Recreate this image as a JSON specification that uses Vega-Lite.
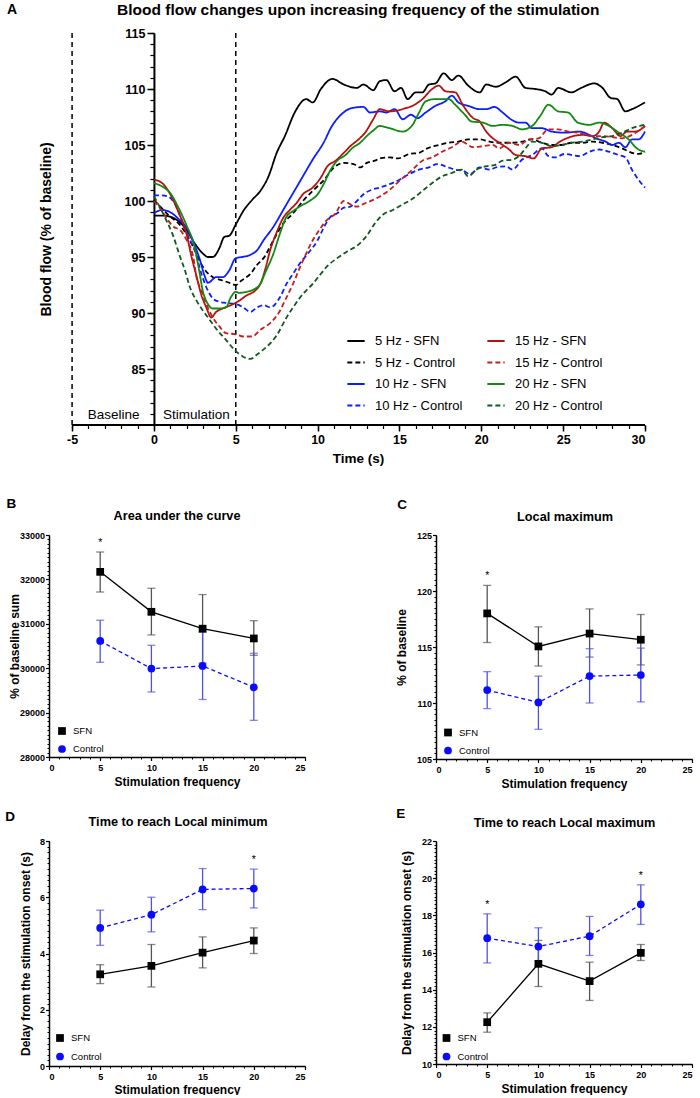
{
  "$schema": "https://vega.github.io/schema/vega-lite/v6.json",
  "padding": {"left": 5, "top": 2, "right": 2, "bottom": 0},
  "background": "white",
  "config": {
    "view": {"stroke": null},
    "font": "Liberation Sans",
    "axis": {"labelFont": "Liberation Sans", "titleFont": "Liberation Sans", "labelFontWeight": "bold", "titleFontWeight": "bold", "labelColor": "black", "titleColor": "black", "tickColor": "black", "domainColor": "black", "domainWidth": 1.5, "tickWidth": 1.2, "grid": false},
    "legend": {"labelFont": "Liberation Sans", "labelColor": "black"},
    "text": {"font": "Liberation Sans", "color": "black"}
  },
  "datasets": {
    "vlines": [{"t": -5}, {"t": 5}],
    "curves": [
      {"s":"5 Hz - SFN","t":0,"v":98.7},{"s":"5 Hz - SFN","t":0.5,"v":98.7},{"s":"5 Hz - SFN","t":1,"v":98.6},{"s":"5 Hz - SFN","t":1.5,"v":98.2},{"s":"5 Hz - SFN","t":2,"v":97.4},{"s":"5 Hz - SFN","t":2.5,"v":96.2},{"s":"5 Hz - SFN","t":3,"v":95.3},{"s":"5 Hz - SFN","t":3.3,"v":95.0},{"s":"5 Hz - SFN","t":3.6,"v":95.0},{"s":"5 Hz - SFN","t":4,"v":95.8},{"s":"5 Hz - SFN","t":4.3,"v":96.8},{"s":"5 Hz - SFN","t":4.6,"v":96.9},{"s":"5 Hz - SFN","t":5,"v":97.9},{"s":"5 Hz - SFN","t":5.5,"v":99.2},{"s":"5 Hz - SFN","t":6,"v":100.1},{"s":"5 Hz - SFN","t":6.5,"v":100.9},{"s":"5 Hz - SFN","t":7,"v":102.2},{"s":"5 Hz - SFN","t":7.5,"v":104.3},{"s":"5 Hz - SFN","t":8,"v":105.8},{"s":"5 Hz - SFN","t":8.6,"v":107.9},{"s":"5 Hz - SFN","t":9.3,"v":109.1},{"s":"5 Hz - SFN","t":9.7,"v":108.8},{"s":"5 Hz - SFN","t":10.2,"v":110.0},{"s":"5 Hz - SFN","t":10.9,"v":110.9},{"s":"5 Hz - SFN","t":11.6,"v":110.4},{"s":"5 Hz - SFN","t":12.4,"v":110.1},{"s":"5 Hz - SFN","t":12.8,"v":110.4},{"s":"5 Hz - SFN","t":13.4,"v":109.9},{"s":"5 Hz - SFN","t":13.8,"v":110.7},{"s":"5 Hz - SFN","t":14.2,"v":110.8},{"s":"5 Hz - SFN","t":14.7,"v":109.8},{"s":"5 Hz - SFN","t":15.1,"v":110.1},{"s":"5 Hz - SFN","t":15.5,"v":109.1},{"s":"5 Hz - SFN","t":16.0,"v":109.7},{"s":"5 Hz - SFN","t":16.4,"v":109.7},{"s":"5 Hz - SFN","t":16.8,"v":110.4},{"s":"5 Hz - SFN","t":17.2,"v":110.5},{"s":"5 Hz - SFN","t":17.7,"v":111.4},{"s":"5 Hz - SFN","t":18.2,"v":110.8},{"s":"5 Hz - SFN","t":18.6,"v":111.2},{"s":"5 Hz - SFN","t":19.2,"v":110.3},{"s":"5 Hz - SFN","t":19.9,"v":109.7},{"s":"5 Hz - SFN","t":20.3,"v":110.4},{"s":"5 Hz - SFN","t":20.9,"v":110.2},{"s":"5 Hz - SFN","t":21.5,"v":110.6},{"s":"5 Hz - SFN","t":22.1,"v":111.1},{"s":"5 Hz - SFN","t":22.7,"v":110.1},{"s":"5 Hz - SFN","t":23.3,"v":110.0},{"s":"5 Hz - SFN","t":23.9,"v":109.8},{"s":"5 Hz - SFN","t":24.3,"v":109.5},{"s":"5 Hz - SFN","t":24.7,"v":110.1},{"s":"5 Hz - SFN","t":25.5,"v":109.7},{"s":"5 Hz - SFN","t":26.1,"v":110.1},{"s":"5 Hz - SFN","t":26.9,"v":110.5},{"s":"5 Hz - SFN","t":27.4,"v":110.1},{"s":"5 Hz - SFN","t":27.9,"v":109.2},{"s":"5 Hz - SFN","t":28.3,"v":109.1},{"s":"5 Hz - SFN","t":28.8,"v":108.0},{"s":"5 Hz - SFN","t":29.2,"v":108.2},{"s":"5 Hz - SFN","t":30,"v":108.8},
      {"s":"5 Hz - Control","t":0,"v":100.1},{"s":"5 Hz - Control","t":0.45,"v":99.4},{"s":"5 Hz - Control","t":1,"v":98.6},{"s":"5 Hz - Control","t":1.5,"v":98.0},{"s":"5 Hz - Control","t":2,"v":97.0},{"s":"5 Hz - Control","t":2.5,"v":95.6},{"s":"5 Hz - Control","t":3,"v":94.1},{"s":"5 Hz - Control","t":3.4,"v":93.4},{"s":"5 Hz - Control","t":3.6,"v":93.2},{"s":"5 Hz - Control","t":4.2,"v":92.9},{"s":"5 Hz - Control","t":4.6,"v":92.7},{"s":"5 Hz - Control","t":5,"v":92.5},{"s":"5 Hz - Control","t":5.35,"v":92.9},{"s":"5 Hz - Control","t":5.9,"v":93.5},{"s":"5 Hz - Control","t":6.3,"v":94.3},{"s":"5 Hz - Control","t":6.7,"v":94.9},{"s":"5 Hz - Control","t":7.3,"v":96.5},{"s":"5 Hz - Control","t":7.9,"v":98.0},{"s":"5 Hz - Control","t":8.5,"v":98.9},{"s":"5 Hz - Control","t":9.1,"v":100.0},{"s":"5 Hz - Control","t":9.7,"v":100.9},{"s":"5 Hz - Control","t":10.4,"v":101.9},{"s":"5 Hz - Control","t":11.0,"v":103.0},{"s":"5 Hz - Control","t":11.6,"v":103.4},{"s":"5 Hz - Control","t":12.2,"v":103.3},{"s":"5 Hz - Control","t":12.6,"v":103.0},{"s":"5 Hz - Control","t":13.0,"v":103.4},{"s":"5 Hz - Control","t":13.5,"v":103.6},{"s":"5 Hz - Control","t":13.8,"v":103.8},{"s":"5 Hz - Control","t":14.4,"v":103.9},{"s":"5 Hz - Control","t":14.9,"v":103.8},{"s":"5 Hz - Control","t":15.6,"v":104.2},{"s":"5 Hz - Control","t":16.2,"v":104.3},{"s":"5 Hz - Control","t":16.7,"v":104.7},{"s":"5 Hz - Control","t":17.4,"v":105.0},{"s":"5 Hz - Control","t":18.0,"v":105.2},{"s":"5 Hz - Control","t":18.6,"v":105.3},{"s":"5 Hz - Control","t":19.2,"v":105.5},{"s":"5 Hz - Control","t":19.9,"v":105.5},{"s":"5 Hz - Control","t":20.5,"v":105.3},{"s":"5 Hz - Control","t":21.1,"v":105.2},{"s":"5 Hz - Control","t":21.9,"v":105.2},{"s":"5 Hz - Control","t":22.5,"v":105.3},{"s":"5 Hz - Control","t":23.1,"v":105.5},{"s":"5 Hz - Control","t":23.7,"v":105.2},{"s":"5 Hz - Control","t":24.3,"v":105.0},{"s":"5 Hz - Control","t":24.9,"v":105.0},{"s":"5 Hz - Control","t":25.5,"v":105.2},{"s":"5 Hz - Control","t":26.2,"v":105.2},{"s":"5 Hz - Control","t":26.8,"v":105.3},{"s":"5 Hz - Control","t":27.4,"v":105.2},{"s":"5 Hz - Control","t":28.0,"v":105.0},{"s":"5 Hz - Control","t":28.6,"v":104.7},{"s":"5 Hz - Control","t":29.2,"v":104.3},{"s":"5 Hz - Control","t":29.6,"v":104.2},{"s":"5 Hz - Control","t":30,"v":104.4},
      {"s":"10 Hz - SFN","t":0,"v":98.9},{"s":"10 Hz - SFN","t":0.5,"v":99.2},{"s":"10 Hz - SFN","t":1,"v":99.0},{"s":"10 Hz - SFN","t":1.5,"v":98.4},{"s":"10 Hz - SFN","t":2,"v":97.6},{"s":"10 Hz - SFN","t":2.5,"v":96.0},{"s":"10 Hz - SFN","t":2.8,"v":94.8},{"s":"10 Hz - SFN","t":3.1,"v":93.3},{"s":"10 Hz - SFN","t":3.3,"v":92.7},{"s":"10 Hz - SFN","t":3.8,"v":93.2},{"s":"10 Hz - SFN","t":4.2,"v":93.2},{"s":"10 Hz - SFN","t":4.6,"v":93.8},{"s":"10 Hz - SFN","t":5,"v":94.9},{"s":"10 Hz - SFN","t":5.4,"v":95.0},{"s":"10 Hz - SFN","t":5.9,"v":95.2},{"s":"10 Hz - SFN","t":6.3,"v":95.6},{"s":"10 Hz - SFN","t":6.7,"v":96.5},{"s":"10 Hz - SFN","t":7.3,"v":97.7},{"s":"10 Hz - SFN","t":7.9,"v":99.2},{"s":"10 Hz - SFN","t":8.5,"v":100.7},{"s":"10 Hz - SFN","t":9.1,"v":102.2},{"s":"10 Hz - SFN","t":9.7,"v":103.7},{"s":"10 Hz - SFN","t":10.4,"v":105.3},{"s":"10 Hz - SFN","t":10.8,"v":106.5},{"s":"10 Hz - SFN","t":11.5,"v":107.8},{"s":"10 Hz - SFN","t":12.1,"v":108.3},{"s":"10 Hz - SFN","t":12.8,"v":108.4},{"s":"10 Hz - SFN","t":13.2,"v":107.9},{"s":"10 Hz - SFN","t":13.8,"v":108.0},{"s":"10 Hz - SFN","t":14.2,"v":107.9},{"s":"10 Hz - SFN","t":14.7,"v":108.2},{"s":"10 Hz - SFN","t":15.2,"v":107.3},{"s":"10 Hz - SFN","t":15.7,"v":107.7},{"s":"10 Hz - SFN","t":16.1,"v":107.4},{"s":"10 Hz - SFN","t":16.6,"v":107.9},{"s":"10 Hz - SFN","t":17.2,"v":108.5},{"s":"10 Hz - SFN","t":17.8,"v":108.9},{"s":"10 Hz - SFN","t":18.2,"v":109.4},{"s":"10 Hz - SFN","t":18.6,"v":108.8},{"s":"10 Hz - SFN","t":19.2,"v":108.5},{"s":"10 Hz - SFN","t":19.9,"v":108.2},{"s":"10 Hz - SFN","t":20.3,"v":108.2},{"s":"10 Hz - SFN","t":20.8,"v":108.4},{"s":"10 Hz - SFN","t":21.3,"v":107.9},{"s":"10 Hz - SFN","t":21.8,"v":107.3},{"s":"10 Hz - SFN","t":22.3,"v":107.0},{"s":"10 Hz - SFN","t":22.7,"v":107.0},{"s":"10 Hz - SFN","t":23.1,"v":106.5},{"s":"10 Hz - SFN","t":23.7,"v":106.5},{"s":"10 Hz - SFN","t":24.3,"v":106.2},{"s":"10 Hz - SFN","t":25.1,"v":106.1},{"s":"10 Hz - SFN","t":26.0,"v":106.2},{"s":"10 Hz - SFN","t":26.6,"v":105.9},{"s":"10 Hz - SFN","t":27.0,"v":105.6},{"s":"10 Hz - SFN","t":27.6,"v":105.3},{"s":"10 Hz - SFN","t":28.0,"v":105.0},{"s":"10 Hz - SFN","t":28.4,"v":105.2},{"s":"10 Hz - SFN","t":28.8,"v":104.8},{"s":"10 Hz - SFN","t":29.2,"v":105.5},{"s":"10 Hz - SFN","t":29.6,"v":105.5},{"s":"10 Hz - SFN","t":30,"v":106.2},
      {"s":"10 Hz - Control","t":0,"v":100.5},{"s":"10 Hz - Control","t":0.45,"v":100.5},{"s":"10 Hz - Control","t":0.85,"v":100.4},{"s":"10 Hz - Control","t":1.3,"v":99.7},{"s":"10 Hz - Control","t":1.7,"v":98.3},{"s":"10 Hz - Control","t":2.1,"v":96.8},{"s":"10 Hz - Control","t":2.5,"v":95.6},{"s":"10 Hz - Control","t":2.9,"v":93.5},{"s":"10 Hz - Control","t":3.2,"v":92.3},{"s":"10 Hz - Control","t":3.6,"v":91.3},{"s":"10 Hz - Control","t":4.0,"v":91.0},{"s":"10 Hz - Control","t":4.4,"v":90.9},{"s":"10 Hz - Control","t":5.0,"v":90.8},{"s":"10 Hz - Control","t":5.45,"v":90.5},{"s":"10 Hz - Control","t":5.9,"v":90.1},{"s":"10 Hz - Control","t":6.3,"v":90.5},{"s":"10 Hz - Control","t":6.7,"v":90.7},{"s":"10 Hz - Control","t":7.1,"v":90.5},{"s":"10 Hz - Control","t":7.7,"v":91.4},{"s":"10 Hz - Control","t":8.1,"v":92.6},{"s":"10 Hz - Control","t":8.5,"v":93.5},{"s":"10 Hz - Control","t":8.9,"v":94.4},{"s":"10 Hz - Control","t":9.4,"v":95.3},{"s":"10 Hz - Control","t":10.0,"v":96.5},{"s":"10 Hz - Control","t":10.4,"v":97.7},{"s":"10 Hz - Control","t":10.8,"v":98.6},{"s":"10 Hz - Control","t":11.2,"v":98.9},{"s":"10 Hz - Control","t":11.6,"v":99.4},{"s":"10 Hz - Control","t":12.0,"v":99.5},{"s":"10 Hz - Control","t":12.4,"v":100.0},{"s":"10 Hz - Control","t":12.8,"v":100.6},{"s":"10 Hz - Control","t":13.3,"v":101.0},{"s":"10 Hz - Control","t":13.8,"v":101.2},{"s":"10 Hz - Control","t":14.4,"v":101.5},{"s":"10 Hz - Control","t":15.0,"v":101.9},{"s":"10 Hz - Control","t":15.6,"v":102.4},{"s":"10 Hz - Control","t":16.2,"v":102.8},{"s":"10 Hz - Control","t":16.8,"v":103.0},{"s":"10 Hz - Control","t":17.3,"v":103.3},{"s":"10 Hz - Control","t":17.8,"v":103.1},{"s":"10 Hz - Control","t":18.4,"v":102.8},{"s":"10 Hz - Control","t":18.9,"v":102.7},{"s":"10 Hz - Control","t":19.3,"v":102.4},{"s":"10 Hz - Control","t":19.9,"v":103.0},{"s":"10 Hz - Control","t":20.5,"v":102.8},{"s":"10 Hz - Control","t":20.9,"v":103.0},{"s":"10 Hz - Control","t":21.5,"v":103.1},{"s":"10 Hz - Control","t":21.9,"v":102.8},{"s":"10 Hz - Control","t":22.5,"v":103.7},{"s":"10 Hz - Control","t":23.1,"v":104.1},{"s":"10 Hz - Control","t":23.7,"v":104.7},{"s":"10 Hz - Control","t":24.1,"v":104.0},{"s":"10 Hz - Control","t":24.5,"v":103.9},{"s":"10 Hz - Control","t":25.1,"v":104.2},{"s":"10 Hz - Control","t":26.0,"v":104.0},{"s":"10 Hz - Control","t":26.6,"v":104.4},{"s":"10 Hz - Control","t":27.2,"v":104.6},{"s":"10 Hz - Control","t":27.8,"v":104.4},{"s":"10 Hz - Control","t":28.4,"v":104.1},{"s":"10 Hz - Control","t":28.8,"v":103.9},{"s":"10 Hz - Control","t":29.2,"v":102.8},{"s":"10 Hz - Control","t":29.6,"v":101.9},{"s":"10 Hz - Control","t":30,"v":101.2},
      {"s":"15 Hz - SFN","t":0,"v":101.9},{"s":"15 Hz - SFN","t":0.5,"v":101.6},{"s":"15 Hz - SFN","t":1,"v":100.6},{"s":"15 Hz - SFN","t":1.5,"v":99.0},{"s":"15 Hz - SFN","t":2,"v":97.0},{"s":"15 Hz - SFN","t":2.3,"v":95.0},{"s":"15 Hz - SFN","t":2.6,"v":93.3},{"s":"15 Hz - SFN","t":2.9,"v":91.6},{"s":"15 Hz - SFN","t":3.2,"v":90.5},{"s":"15 Hz - SFN","t":3.5,"v":89.6},{"s":"15 Hz - SFN","t":3.8,"v":90.1},{"s":"15 Hz - SFN","t":4.2,"v":90.4},{"s":"15 Hz - SFN","t":4.7,"v":90.7},{"s":"15 Hz - SFN","t":5.1,"v":91.0},{"s":"15 Hz - SFN","t":5.7,"v":91.6},{"s":"15 Hz - SFN","t":6.1,"v":91.9},{"s":"15 Hz - SFN","t":6.5,"v":92.6},{"s":"15 Hz - SFN","t":6.8,"v":93.9},{"s":"15 Hz - SFN","t":7.1,"v":95.6},{"s":"15 Hz - SFN","t":7.5,"v":97.2},{"s":"15 Hz - SFN","t":7.9,"v":98.5},{"s":"15 Hz - SFN","t":8.3,"v":99.2},{"s":"15 Hz - SFN","t":8.7,"v":99.8},{"s":"15 Hz - SFN","t":9.1,"v":100.6},{"s":"15 Hz - SFN","t":9.7,"v":101.2},{"s":"15 Hz - SFN","t":10.2,"v":102.1},{"s":"15 Hz - SFN","t":10.6,"v":103.1},{"s":"15 Hz - SFN","t":11.1,"v":103.6},{"s":"15 Hz - SFN","t":11.6,"v":104.3},{"s":"15 Hz - SFN","t":12.0,"v":104.9},{"s":"15 Hz - SFN","t":12.5,"v":105.5},{"s":"15 Hz - SFN","t":12.9,"v":106.1},{"s":"15 Hz - SFN","t":13.4,"v":107.3},{"s":"15 Hz - SFN","t":13.8,"v":108.2},{"s":"15 Hz - SFN","t":14.4,"v":108.0},{"s":"15 Hz - SFN","t":15.4,"v":108.3},{"s":"15 Hz - SFN","t":15.8,"v":108.5},{"s":"15 Hz - SFN","t":16.4,"v":109.1},{"s":"15 Hz - SFN","t":17.0,"v":110.0},{"s":"15 Hz - SFN","t":17.4,"v":110.3},{"s":"15 Hz - SFN","t":17.8,"v":109.8},{"s":"15 Hz - SFN","t":18.4,"v":109.7},{"s":"15 Hz - SFN","t":18.9,"v":108.5},{"s":"15 Hz - SFN","t":19.5,"v":107.4},{"s":"15 Hz - SFN","t":19.9,"v":107.1},{"s":"15 Hz - SFN","t":20.3,"v":106.2},{"s":"15 Hz - SFN","t":20.7,"v":105.6},{"s":"15 Hz - SFN","t":21.1,"v":105.2},{"s":"15 Hz - SFN","t":21.7,"v":104.6},{"s":"15 Hz - SFN","t":22.1,"v":104.1},{"s":"15 Hz - SFN","t":22.7,"v":104.0},{"s":"15 Hz - SFN","t":23.2,"v":103.8},{"s":"15 Hz - SFN","t":23.7,"v":104.7},{"s":"15 Hz - SFN","t":24.3,"v":104.8},{"s":"15 Hz - SFN","t":24.8,"v":105.3},{"s":"15 Hz - SFN","t":25.4,"v":105.7},{"s":"15 Hz - SFN","t":26.2,"v":105.9},{"s":"15 Hz - SFN","t":26.8,"v":105.8},{"s":"15 Hz - SFN","t":27.2,"v":106.2},{"s":"15 Hz - SFN","t":27.5,"v":107.0},{"s":"15 Hz - SFN","t":28.0,"v":106.5},{"s":"15 Hz - SFN","t":28.5,"v":105.8},{"s":"15 Hz - SFN","t":28.9,"v":106.2},{"s":"15 Hz - SFN","t":29.4,"v":106.2},{"s":"15 Hz - SFN","t":30,"v":106.7},
      {"s":"15 Hz - Control","t":0,"v":100.0},{"s":"15 Hz - Control","t":0.45,"v":99.2},{"s":"15 Hz - Control","t":0.85,"v":98.3},{"s":"15 Hz - Control","t":1.2,"v":97.7},{"s":"15 Hz - Control","t":1.6,"v":97.4},{"s":"15 Hz - Control","t":2.0,"v":96.5},{"s":"15 Hz - Control","t":2.4,"v":95.0},{"s":"15 Hz - Control","t":2.6,"v":93.2},{"s":"15 Hz - Control","t":2.9,"v":92.0},{"s":"15 Hz - Control","t":3.2,"v":90.8},{"s":"15 Hz - Control","t":3.6,"v":89.6},{"s":"15 Hz - Control","t":4.0,"v":88.8},{"s":"15 Hz - Control","t":4.4,"v":88.2},{"s":"15 Hz - Control","t":5.0,"v":88.1},{"s":"15 Hz - Control","t":5.45,"v":87.9},{"s":"15 Hz - Control","t":6.0,"v":87.9},{"s":"15 Hz - Control","t":6.5,"v":88.5},{"s":"15 Hz - Control","t":7.1,"v":89.1},{"s":"15 Hz - Control","t":7.7,"v":90.2},{"s":"15 Hz - Control","t":8.1,"v":91.4},{"s":"15 Hz - Control","t":8.5,"v":92.6},{"s":"15 Hz - Control","t":8.9,"v":94.0},{"s":"15 Hz - Control","t":9.3,"v":95.3},{"s":"15 Hz - Control","t":9.7,"v":96.5},{"s":"15 Hz - Control","t":10.1,"v":97.4},{"s":"15 Hz - Control","t":10.5,"v":98.2},{"s":"15 Hz - Control","t":11.1,"v":98.9},{"s":"15 Hz - Control","t":11.6,"v":100.0},{"s":"15 Hz - Control","t":12.0,"v":99.7},{"s":"15 Hz - Control","t":12.4,"v":99.5},{"s":"15 Hz - Control","t":12.9,"v":99.8},{"s":"15 Hz - Control","t":13.4,"v":100.1},{"s":"15 Hz - Control","t":13.8,"v":100.4},{"s":"15 Hz - Control","t":14.4,"v":101.0},{"s":"15 Hz - Control","t":15.0,"v":101.8},{"s":"15 Hz - Control","t":15.8,"v":102.8},{"s":"15 Hz - Control","t":16.4,"v":103.6},{"s":"15 Hz - Control","t":17.0,"v":103.9},{"s":"15 Hz - Control","t":17.6,"v":104.4},{"s":"15 Hz - Control","t":18.2,"v":104.8},{"s":"15 Hz - Control","t":18.8,"v":105.3},{"s":"15 Hz - Control","t":19.5,"v":104.8},{"s":"15 Hz - Control","t":20.1,"v":104.9},{"s":"15 Hz - Control","t":20.7,"v":105.0},{"s":"15 Hz - Control","t":21.1,"v":104.7},{"s":"15 Hz - Control","t":21.7,"v":105.2},{"s":"15 Hz - Control","t":22.3,"v":105.0},{"s":"15 Hz - Control","t":22.9,"v":105.5},{"s":"15 Hz - Control","t":23.5,"v":105.6},{"s":"15 Hz - Control","t":24.1,"v":106.4},{"s":"15 Hz - Control","t":24.7,"v":106.4},{"s":"15 Hz - Control","t":25.3,"v":106.2},{"s":"15 Hz - Control","t":25.9,"v":106.1},{"s":"15 Hz - Control","t":26.8,"v":105.8},{"s":"15 Hz - Control","t":27.4,"v":105.8},{"s":"15 Hz - Control","t":28.0,"v":105.7},{"s":"15 Hz - Control","t":28.6,"v":105.6},{"s":"15 Hz - Control","t":29.2,"v":105.9},{"s":"15 Hz - Control","t":30,"v":106.7},
      {"s":"20 Hz - SFN","t":0,"v":101.6},{"s":"20 Hz - SFN","t":0.5,"v":101.3},{"s":"20 Hz - SFN","t":1,"v":100.7},{"s":"20 Hz - SFN","t":1.5,"v":99.4},{"s":"20 Hz - SFN","t":2,"v":97.8},{"s":"20 Hz - SFN","t":2.5,"v":95.8},{"s":"20 Hz - SFN","t":2.75,"v":93.9},{"s":"20 Hz - SFN","t":3.0,"v":91.9},{"s":"20 Hz - SFN","t":3.3,"v":90.8},{"s":"20 Hz - SFN","t":3.6,"v":90.4},{"s":"20 Hz - SFN","t":4.0,"v":90.4},{"s":"20 Hz - SFN","t":4.4,"v":90.5},{"s":"20 Hz - SFN","t":4.7,"v":91.4},{"s":"20 Hz - SFN","t":5.0,"v":91.9},{"s":"20 Hz - SFN","t":5.2,"v":91.8},{"s":"20 Hz - SFN","t":5.7,"v":91.9},{"s":"20 Hz - SFN","t":6.1,"v":92.1},{"s":"20 Hz - SFN","t":6.5,"v":92.6},{"s":"20 Hz - SFN","t":6.8,"v":93.6},{"s":"20 Hz - SFN","t":7.3,"v":95.3},{"s":"20 Hz - SFN","t":7.7,"v":97.1},{"s":"20 Hz - SFN","t":8.1,"v":98.6},{"s":"20 Hz - SFN","t":8.5,"v":99.1},{"s":"20 Hz - SFN","t":8.9,"v":99.5},{"s":"20 Hz - SFN","t":9.5,"v":100.0},{"s":"20 Hz - SFN","t":10.0,"v":100.6},{"s":"20 Hz - SFN","t":10.4,"v":101.6},{"s":"20 Hz - SFN","t":10.8,"v":102.8},{"s":"20 Hz - SFN","t":11.2,"v":103.6},{"s":"20 Hz - SFN","t":11.7,"v":104.1},{"s":"20 Hz - SFN","t":12.1,"v":104.7},{"s":"20 Hz - SFN","t":12.6,"v":105.2},{"s":"20 Hz - SFN","t":13.0,"v":105.8},{"s":"20 Hz - SFN","t":13.4,"v":106.3},{"s":"20 Hz - SFN","t":13.8,"v":106.7},{"s":"20 Hz - SFN","t":14.4,"v":106.5},{"s":"20 Hz - SFN","t":15.2,"v":106.2},{"s":"20 Hz - SFN","t":15.8,"v":106.8},{"s":"20 Hz - SFN","t":16.2,"v":107.9},{"s":"20 Hz - SFN","t":16.6,"v":108.9},{"s":"20 Hz - SFN","t":17.2,"v":109.1},{"s":"20 Hz - SFN","t":18.0,"v":109.1},{"s":"20 Hz - SFN","t":18.4,"v":108.6},{"s":"20 Hz - SFN","t":19.0,"v":107.7},{"s":"20 Hz - SFN","t":19.4,"v":107.1},{"s":"20 Hz - SFN","t":20.1,"v":107.0},{"s":"20 Hz - SFN","t":20.7,"v":106.7},{"s":"20 Hz - SFN","t":21.3,"v":106.8},{"s":"20 Hz - SFN","t":21.9,"v":106.7},{"s":"20 Hz - SFN","t":22.5,"v":106.4},{"s":"20 Hz - SFN","t":23.1,"v":106.7},{"s":"20 Hz - SFN","t":23.6,"v":107.6},{"s":"20 Hz - SFN","t":24.1,"v":108.6},{"s":"20 Hz - SFN","t":24.7,"v":108.0},{"s":"20 Hz - SFN","t":25.3,"v":107.9},{"s":"20 Hz - SFN","t":25.9,"v":107.0},{"s":"20 Hz - SFN","t":26.6,"v":106.8},{"s":"20 Hz - SFN","t":27.2,"v":107.0},{"s":"20 Hz - SFN","t":27.8,"v":106.7},{"s":"20 Hz - SFN","t":28.4,"v":106.1},{"s":"20 Hz - SFN","t":29.0,"v":105.5},{"s":"20 Hz - SFN","t":29.5,"v":104.7},{"s":"20 Hz - SFN","t":30,"v":104.4},
      {"s":"20 Hz - Control","t":0,"v":100.4},{"s":"20 Hz - Control","t":0.35,"v":99.5},{"s":"20 Hz - Control","t":0.75,"v":98.3},{"s":"20 Hz - Control","t":1.2,"v":96.8},{"s":"20 Hz - Control","t":1.6,"v":95.0},{"s":"20 Hz - Control","t":1.9,"v":93.8},{"s":"20 Hz - Control","t":2.2,"v":92.3},{"s":"20 Hz - Control","t":2.6,"v":91.1},{"s":"20 Hz - Control","t":3.0,"v":90.2},{"s":"20 Hz - Control","t":3.4,"v":89.4},{"s":"20 Hz - Control","t":3.8,"v":88.6},{"s":"20 Hz - Control","t":4.4,"v":87.6},{"s":"20 Hz - Control","t":5.0,"v":86.6},{"s":"20 Hz - Control","t":5.45,"v":86.1},{"s":"20 Hz - Control","t":5.9,"v":85.9},{"s":"20 Hz - Control","t":6.3,"v":86.3},{"s":"20 Hz - Control","t":6.9,"v":87.0},{"s":"20 Hz - Control","t":7.5,"v":88.0},{"s":"20 Hz - Control","t":8.1,"v":89.6},{"s":"20 Hz - Control","t":8.5,"v":90.5},{"s":"20 Hz - Control","t":9.1,"v":91.7},{"s":"20 Hz - Control","t":9.7,"v":92.6},{"s":"20 Hz - Control","t":10.2,"v":93.5},{"s":"20 Hz - Control","t":10.6,"v":94.2},{"s":"20 Hz - Control","t":11.2,"v":94.9},{"s":"20 Hz - Control","t":11.8,"v":95.5},{"s":"20 Hz - Control","t":12.4,"v":96.0},{"s":"20 Hz - Control","t":13.0,"v":96.9},{"s":"20 Hz - Control","t":13.5,"v":98.0},{"s":"20 Hz - Control","t":14.0,"v":98.8},{"s":"20 Hz - Control","t":14.6,"v":99.2},{"s":"20 Hz - Control","t":15.2,"v":99.7},{"s":"20 Hz - Control","t":15.8,"v":100.2},{"s":"20 Hz - Control","t":16.4,"v":100.9},{"s":"20 Hz - Control","t":17.0,"v":101.6},{"s":"20 Hz - Control","t":17.6,"v":102.2},{"s":"20 Hz - Control","t":18.2,"v":102.5},{"s":"20 Hz - Control","t":18.8,"v":102.8},{"s":"20 Hz - Control","t":19.2,"v":102.2},{"s":"20 Hz - Control","t":19.7,"v":102.8},{"s":"20 Hz - Control","t":20.3,"v":103.1},{"s":"20 Hz - Control","t":20.8,"v":103.2},{"s":"20 Hz - Control","t":21.3,"v":103.6},{"s":"20 Hz - Control","t":21.9,"v":103.7},{"s":"20 Hz - Control","t":22.3,"v":104.0},{"s":"20 Hz - Control","t":22.7,"v":104.7},{"s":"20 Hz - Control","t":23.1,"v":105.3},{"s":"20 Hz - Control","t":23.7,"v":105.2},{"s":"20 Hz - Control","t":24.3,"v":104.9},{"s":"20 Hz - Control","t":24.9,"v":105.0},{"s":"20 Hz - Control","t":25.5,"v":105.2},{"s":"20 Hz - Control","t":26.2,"v":105.3},{"s":"20 Hz - Control","t":26.8,"v":105.5},{"s":"20 Hz - Control","t":27.4,"v":105.7},{"s":"20 Hz - Control","t":28.0,"v":105.8},{"s":"20 Hz - Control","t":28.6,"v":106.1},{"s":"20 Hz - Control","t":29.2,"v":106.5},{"s":"20 Hz - Control","t":30,"v":106.8}
    ],
    "auc": [
      {"freq":5,"group":"SFN","mean":32170,"lo":31716,"hi":32617,"star":1},
      {"freq":10,"group":"SFN","mean":31270,"lo":30750,"hi":31800},
      {"freq":15,"group":"SFN","mean":30890,"lo":30115,"hi":31658},
      {"freq":20,"group":"SFN","mean":30670,"lo":30290,"hi":31070},
      {"freq":5,"group":"Control","mean":30613,"lo":30133,"hi":31080},
      {"freq":10,"group":"Control","mean":29991,"lo":29464,"hi":30516},
      {"freq":15,"group":"Control","mean":30050,"lo":29295,"hi":30815},
      {"freq":20,"group":"Control","mean":29570,"lo":28826,"hi":30336}
    ],
    "lmax": [
      {"freq":5,"group":"SFN","mean":118.0,"lo":115.4,"hi":120.5,"star":1},
      {"freq":10,"group":"SFN","mean":115.05,"lo":113.3,"hi":116.8},
      {"freq":15,"group":"SFN","mean":116.2,"lo":114.1,"hi":118.4},
      {"freq":20,"group":"SFN","mean":115.65,"lo":113.4,"hi":117.9},
      {"freq":5,"group":"Control","mean":111.15,"lo":109.5,"hi":112.8},
      {"freq":10,"group":"Control","mean":110.05,"lo":107.65,"hi":112.4},
      {"freq":15,"group":"Control","mean":112.4,"lo":110.0,"hi":114.85},
      {"freq":20,"group":"Control","mean":112.5,"lo":110.1,"hi":114.9}
    ],
    "tmin": [
      {"freq":5,"group":"SFN","mean":3.26,"lo":2.93,"hi":3.6},
      {"freq":10,"group":"SFN","mean":3.56,"lo":2.81,"hi":4.32},
      {"freq":15,"group":"SFN","mean":4.03,"lo":3.49,"hi":4.59},
      {"freq":20,"group":"SFN","mean":4.46,"lo":4.0,"hi":4.91},
      {"freq":5,"group":"Control","mean":4.91,"lo":4.29,"hi":5.54},
      {"freq":10,"group":"Control","mean":5.38,"lo":4.77,"hi":6.0},
      {"freq":15,"group":"Control","mean":6.28,"lo":5.56,"hi":7.02},
      {"freq":20,"group":"Control","mean":6.31,"lo":5.62,"hi":7.0,"star":1}
    ],
    "tmax": [
      {"freq":5,"group":"SFN","mean":12.25,"lo":11.71,"hi":12.75},
      {"freq":10,"group":"SFN","mean":15.39,"lo":14.17,"hi":16.65},
      {"freq":15,"group":"SFN","mean":14.46,"lo":13.42,"hi":15.48},
      {"freq":20,"group":"SFN","mean":15.98,"lo":15.57,"hi":16.43},
      {"freq":5,"group":"Control","mean":16.77,"lo":15.44,"hi":18.08,"star":1},
      {"freq":10,"group":"Control","mean":16.32,"lo":15.3,"hi":17.33},
      {"freq":15,"group":"Control","mean":16.88,"lo":15.84,"hi":17.94},
      {"freq":20,"group":"Control","mean":18.59,"lo":17.51,"hi":19.64,"star":1}
    ]
  },
  "resolve": {"scale": {"color": "independent", "strokeDash": "independent", "shape": "independent"}},
  "spacing": 31,
  "vconcat": [
    {
      "width": 596,
      "height": 392,
      "layer": [
        {
          "data": {"name": "vlines"},
          "mark": {"type": "rule", "strokeDash": [5, 4], "strokeWidth": 1.5, "color": "black"},
          "encoding": {"x": {"field": "t", "type": "quantitative", "scale": {"domain": [-6.41, 30], "nice": false, "zero": false}, "axis": null}}
        },
        {
          "data": {"name": "curves"},
          "mark": {"type": "line", "strokeWidth": 1.8, "interpolate": "monotone"},
          "encoding": {
            "x": {"field": "t", "type": "quantitative", "scale": {"domain": [-6.41, 30], "nice": false, "zero": false},
              "axis": {"orient": "bottom", "values": [-5, 0, 5, 10, 15, 20, 25, 30], "domain": false, "tickSize": 6, "tickWidth": 1.5, "labelFontSize": 12.5, "labelPadding": 2.5, "labelExpr": "'' + datum.value", "title": "Time (s)", "titleFontSize": 13.5, "titleX": 309, "titleY": 26, "titleBaseline": "top"}},
            "y": {"field": "v", "type": "quantitative", "scale": {"domain": [80, 115], "nice": false, "zero": false},
              "axis": {"orient": "left", "offset": -104.93, "values": [85, 90, 95, 100, 105, 110, 115], "tickSize": 7, "tickWidth": 1.5, "domainWidth": 2, "labelFontSize": 12.5, "labelPadding": 2, "title": "Blood flow (% of baseline)", "titleFontSize": 14, "titleX": -107, "titleBaseline": "middle"}},
            "color": {"field": "s", "type": "nominal",
              "scale": {"domain": ["5 Hz - SFN", "5 Hz - Control", "10 Hz - SFN", "10 Hz - Control", "15 Hz - SFN", "15 Hz - Control", "20 Hz - SFN", "20 Hz - Control"],
                "range": ["#000000", "#000000", "#0a1eff", "#0a1eff", "#b80f0f", "#c41e1e", "#108a10", "#0f5a1e"]},
              "legend": {"title": null, "orient": "none", "legendX": 297, "legendY": 298, "columns": 2, "columnPadding": 20, "rowPadding": 4.5, "labelFontSize": 13, "labelOffset": 9, "symbolType": "stroke", "symbolSize": 300, "symbolStrokeWidth": 1.8, "padding": 0}},
            "strokeDash": {"field": "s", "type": "nominal",
              "scale": {"domain": ["5 Hz - SFN", "5 Hz - Control", "10 Hz - SFN", "10 Hz - Control", "15 Hz - SFN", "15 Hz - Control", "20 Hz - SFN", "20 Hz - Control"],
                "range": [[1, 0], [5, 3], [1, 0], [5, 3], [1, 0], [5, 3], [1, 0], [5, 3]]},
              "legend": {"title": null, "orient": "none", "legendX": 297, "legendY": 298, "columns": 2, "columnPadding": 20, "rowPadding": 4.5, "labelFontSize": 13, "labelOffset": 9, "symbolType": "stroke", "symbolSize": 300, "symbolStrokeWidth": 1.8, "padding": 0}}
          }
        },
        {
          "data": {"values": [{}]},
          "mark": {"type": "rule", "strokeWidth": 2, "color": "black"},
          "encoding": {
            "x": {"datum": -5, "type": "quantitative", "scale": {"domain": [-6.41, 30], "nice": false, "zero": false},
              "axis": {"orient": "bottom", "values": [-5,-4,-3,-2,-1,0,1,2,3,4,5,6,7,8,9,10,11,12,13,14,15,16,17,18,19,20,21,22,23,24,25,26,27,28,29,30], "labels": false, "domain": false, "tickSize": 3.5, "tickWidth": 1.2, "title": null}},
            "x2": {"datum": 30},
            "y": {"datum": 80, "type": "quantitative", "scale": {"domain": [80, 115], "nice": false, "zero": false},
              "axis": {"orient": "left", "offset": -104.93, "values": [81,82,83,84,85,86,87,88,89,90,91,92,93,94,95,96,97,98,99,100,101,102,103,104,105,106,107,108,109,110,111,112,113,114,115], "labels": false, "domain": false, "tickSize": 4, "tickWidth": 1.2, "title": null}}
          }
        },
        {
          "data": {"values": [{}]},
          "mark": {"type": "text", "text": "Baseline", "fontSize": 13.5, "align": "center", "baseline": "alphabetic"},
          "encoding": {
            "x": {"datum": -2.46, "type": "quantitative", "scale": {"domain": [-6.41, 30], "nice": false, "zero": false}, "axis": null},
            "y": {"datum": 80.55, "type": "quantitative", "scale": {"domain": [80, 115], "nice": false, "zero": false}, "axis": null}
          }
        },
        {
          "data": {"values": [{}]},
          "mark": {"type": "text", "text": "Stimulation", "fontSize": 13.5, "align": "center", "baseline": "alphabetic"},
          "encoding": {
            "x": {"datum": 2.6, "type": "quantitative", "scale": {"domain": [-6.41, 30], "nice": false, "zero": false}, "axis": null},
            "y": {"datum": 80.55, "type": "quantitative", "scale": {"domain": [80, 115], "nice": false, "zero": false}, "axis": null}
          }
        },
        {
          "data": {"values": [{}]},
          "mark": {"type": "text", "text": "Blood flow changes upon increasing frequency of the stimulation", "fontSize": 15.5, "fontWeight": "bold", "align": "center", "baseline": "alphabetic"},
          "encoding": {
            "x": {"datum": 12.48, "type": "quantitative", "scale": {"domain": [-6.41, 30], "nice": false, "zero": false}, "axis": null},
            "y": {"datum": 116.65, "type": "quantitative", "scale": {"domain": [80, 115], "nice": false, "zero": false}, "axis": null}
          }
        },
        {
          "data": {"values": [{}]},
          "mark": {"type": "text", "text": "A", "fontSize": 14, "fontWeight": "bold", "align": "center", "baseline": "middle"},
          "encoding": {
            "x": {"datum": -8.67, "type": "quantitative", "scale": {"domain": [-6.41, 30], "nice": false, "zero": false}, "axis": null},
            "y": {"datum": 117.03, "type": "quantitative", "scale": {"domain": [80, 115], "nice": false, "zero": false}, "axis": null}
          }
        }
      ],
      "resolve": {"axis": {"x": "independent", "y": "independent"}}
    },
    {
      "spacing": 18,
      "resolve": {"scale": {"color": "independent", "strokeDash": "independent", "shape": "independent"}},
      "vconcat": [
        {
          "spacing": 131,
          "bounds": "flush",
          "resolve": {"scale": {"color": "independent", "strokeDash": "independent", "shape": "independent"}},
          "hconcat": [
            {
              "width": 256, "height": 222,
              "data": {"name": "auc"},
              "layer": [
                {"mark": {"type": "rule", "strokeWidth": 1.3},
                 "encoding": {
                   "x": {"field": "freq", "type": "quantitative", "scale": {"domain": [0, 25], "nice": false, "zero": false}, "axis": {"orient": "bottom", "values": [0, 5, 10, 15, 20, 25], "format": "d", "tickSize": 3.5, "labelFontSize": 9, "labelPadding": 2.5, "title": "Stimulation frequency", "titleFontSize": 12, "titleY": 24, "titleBaseline": "middle"}},
                   "y": {"field": "lo", "type": "quantitative", "scale": {"domain": [28000, 33000], "nice": false, "zero": false}, "axis": {"orient": "left", "values": [28000, 29000, 30000, 31000, 32000, 33000], "format": "d", "tickSize": 3.5, "labelFontSize": 9, "labelPadding": 1, "title": "% of baseline sum", "titleFontSize": 12, "titleX": -34.3, "titleBaseline": "middle"}},
                   "y2": {"field": "hi"},
                   "color": {"condition": {"test": "datum.group === 'SFN'", "value": "#555555"}, "value": "#5050e8"}}},
                {"transform": [{"fold": ["lo", "hi"], "as": ["k", "val"]}],
                 "mark": {"type": "tick", "orient": "horizontal", "size": 8, "thickness": 1.3},
                 "encoding": {
                   "x": {"field": "freq", "type": "quantitative", "scale": {"domain": [0, 25], "nice": false, "zero": false}, "axis": null},
                   "y": {"field": "val", "type": "quantitative", "scale": {"domain": [28000, 33000], "nice": false, "zero": false}, "axis": null},
                   "color": {"condition": {"test": "datum.group === 'SFN'", "value": "#555555"}, "value": "#5050e8"}}},
                {"transform": [{"filter": "datum.group === 'SFN'"}],
                 "mark": {"type": "line", "color": "#000000", "strokeWidth": 1.3},
                 "encoding": {
                   "x": {"field": "freq", "type": "quantitative", "scale": {"domain": [0, 25], "nice": false, "zero": false}, "axis": null},
                   "y": {"field": "mean", "type": "quantitative", "scale": {"domain": [28000, 33000], "nice": false, "zero": false}, "axis": null}}},
                {"transform": [{"filter": "datum.group === 'Control'"}],
                 "mark": {"type": "line", "color": "#0a0aff", "strokeWidth": 1.3, "strokeDash": [4, 3]},
                 "encoding": {
                   "x": {"field": "freq", "type": "quantitative", "scale": {"domain": [0, 25], "nice": false, "zero": false}, "axis": null},
                   "y": {"field": "mean", "type": "quantitative", "scale": {"domain": [28000, 33000], "nice": false, "zero": false}, "axis": null}}},
                {"mark": {"type": "point", "filled": true, "size": 60, "opacity": 1},
                 "encoding": {
                   "x": {"field": "freq", "type": "quantitative", "scale": {"domain": [0, 25], "nice": false, "zero": false}, "axis": null},
                   "y": {"field": "mean", "type": "quantitative", "scale": {"domain": [28000, 33000], "nice": false, "zero": false}, "axis": null},
                   "color": {"field": "group", "type": "nominal", "scale": {"domain": ["SFN", "Control"], "range": ["#000000", "#0a0aff"]}, "legend": {"title": null, "orient": "none", "legendX": 8, "legendY": 191, "labelFontSize": 9.5, "symbolSize": 60, "rowPadding": 8, "labelOffset": 6, "padding": 0}},
                   "shape": {"field": "group", "type": "nominal", "scale": {"domain": ["SFN", "Control"], "range": ["square", "circle"]}, "legend": {"title": null, "orient": "none", "legendX": 8, "legendY": 191, "labelFontSize": 9.5, "symbolSize": 60, "rowPadding": 8, "labelOffset": 6, "padding": 0}}}},
                {"transform": [{"filter": "datum.star === 1"}],
                 "mark": {"type": "text", "text": "*", "fontSize": 10.5, "color": "#000000", "baseline": "middle", "dy": -9},
                 "encoding": {
                   "x": {"field": "freq", "type": "quantitative", "scale": {"domain": [0, 25], "nice": false, "zero": false}, "axis": null},
                   "y": {"field": "hi", "type": "quantitative", "scale": {"domain": [28000, 33000], "nice": false, "zero": false}, "axis": null}}},
                {"data": {"values": [{}]},
                 "mark": {"type": "text", "text": "Area under the curve", "fontSize": 12.7, "fontWeight": "bold", "align": "center", "baseline": "alphabetic"},
                 "encoding": {
                   "x": {"datum": 12.5, "type": "quantitative", "scale": {"domain": [0, 25], "nice": false, "zero": false}, "axis": null},
                   "y": {"datum": 33331, "type": "quantitative", "scale": {"domain": [28000, 33000], "nice": false, "zero": false}, "axis": null}}},
                {"data": {"values": [{}]},
                 "mark": {"type": "text", "text": "B", "fontSize": 13.5, "fontWeight": "bold", "align": "center", "baseline": "middle"},
                 "encoding": {
                   "x": {"datum": -3.67, "type": "quantitative", "scale": {"domain": [0, 25], "nice": false, "zero": false}, "axis": {"orient": "bottom", "values": [0,1,2,3,4,5,6,7,8,9,10,11,12,13,14,15,16,17,18,19,20,21,22,23,24,25], "labels": false, "domain": false, "tickSize": 2, "tickWidth": 1, "title": null}},
                   "y": {"datum": 33709, "type": "quantitative", "scale": {"domain": [28000, 33000], "nice": false, "zero": false}, "axis": {"orient": "left", "values": [28000,28100,28200,28300,28400,28500,28600,28700,28800,28900,29000,29100,29200,29300,29400,29500,29600,29700,29800,29900,30000,30100,30200,30300,30400,30500,30600,30700,30800,30900,31000,31100,31200,31300,31400,31500,31600,31700,31800,31900,32000,32100,32200,32300,32400,32500,32600,32700,32800,32900,33000], "labels": false, "domain": false, "tickSize": 2, "tickWidth": 1, "title": null}}}}
              ],
              "resolve": {"axis": {"x": "independent", "y": "independent"}}
            },
            {
              "width": 256, "height": 224,
              "data": {"name": "lmax"},
              "layer": [
                {"mark": {"type": "rule", "strokeWidth": 1.3},
                 "encoding": {
                   "x": {"field": "freq", "type": "quantitative", "scale": {"domain": [0, 25], "nice": false, "zero": false}, "axis": {"orient": "bottom", "values": [0, 5, 10, 15, 20, 25], "format": "d", "tickSize": 3.5, "labelFontSize": 9, "labelPadding": 2.5, "title": "Stimulation frequency", "titleFontSize": 12, "titleY": 24, "titleBaseline": "middle"}},
                   "y": {"field": "lo", "type": "quantitative", "scale": {"domain": [105, 125], "nice": false, "zero": false}, "axis": {"orient": "left", "values": [105, 110, 115, 120, 125], "format": "d", "tickSize": 3.5, "labelFontSize": 9, "labelPadding": 1, "title": "% of baseline", "titleFontSize": 12, "titleX": -34.8, "titleBaseline": "middle"}},
                   "y2": {"field": "hi"},
                   "color": {"condition": {"test": "datum.group === 'SFN'", "value": "#555555"}, "value": "#5050e8"}}},
                {"transform": [{"fold": ["lo", "hi"], "as": ["k", "val"]}],
                 "mark": {"type": "tick", "orient": "horizontal", "size": 8, "thickness": 1.3},
                 "encoding": {
                   "x": {"field": "freq", "type": "quantitative", "scale": {"domain": [0, 25], "nice": false, "zero": false}, "axis": null},
                   "y": {"field": "val", "type": "quantitative", "scale": {"domain": [105, 125], "nice": false, "zero": false}, "axis": null},
                   "color": {"condition": {"test": "datum.group === 'SFN'", "value": "#555555"}, "value": "#5050e8"}}},
                {"transform": [{"filter": "datum.group === 'SFN'"}],
                 "mark": {"type": "line", "color": "#000000", "strokeWidth": 1.3},
                 "encoding": {
                   "x": {"field": "freq", "type": "quantitative", "scale": {"domain": [0, 25], "nice": false, "zero": false}, "axis": null},
                   "y": {"field": "mean", "type": "quantitative", "scale": {"domain": [105, 125], "nice": false, "zero": false}, "axis": null}}},
                {"transform": [{"filter": "datum.group === 'Control'"}],
                 "mark": {"type": "line", "color": "#0a0aff", "strokeWidth": 1.3, "strokeDash": [4, 3]},
                 "encoding": {
                   "x": {"field": "freq", "type": "quantitative", "scale": {"domain": [0, 25], "nice": false, "zero": false}, "axis": null},
                   "y": {"field": "mean", "type": "quantitative", "scale": {"domain": [105, 125], "nice": false, "zero": false}, "axis": null}}},
                {"mark": {"type": "point", "filled": true, "size": 60, "opacity": 1},
                 "encoding": {
                   "x": {"field": "freq", "type": "quantitative", "scale": {"domain": [0, 25], "nice": false, "zero": false}, "axis": null},
                   "y": {"field": "mean", "type": "quantitative", "scale": {"domain": [105, 125], "nice": false, "zero": false}, "axis": null},
                   "color": {"field": "group", "type": "nominal", "scale": {"domain": ["SFN", "Control"], "range": ["#000000", "#0a0aff"]}, "legend": {"title": null, "orient": "none", "legendX": 7, "legendY": 192.5, "labelFontSize": 9.5, "symbolSize": 60, "rowPadding": 8, "labelOffset": 6, "padding": 0}},
                   "shape": {"field": "group", "type": "nominal", "scale": {"domain": ["SFN", "Control"], "range": ["square", "circle"]}, "legend": {"title": null, "orient": "none", "legendX": 7, "legendY": 192.5, "labelFontSize": 9.5, "symbolSize": 60, "rowPadding": 8, "labelOffset": 6, "padding": 0}}}},
                {"transform": [{"filter": "datum.star === 1"}],
                 "mark": {"type": "text", "text": "*", "fontSize": 10.5, "color": "#000000", "baseline": "middle", "dy": -9},
                 "encoding": {
                   "x": {"field": "freq", "type": "quantitative", "scale": {"domain": [0, 25], "nice": false, "zero": false}, "axis": null},
                   "y": {"field": "hi", "type": "quantitative", "scale": {"domain": [105, 125], "nice": false, "zero": false}, "axis": null}}},
                {"data": {"values": [{}]},
                 "mark": {"type": "text", "text": "Local maximum", "fontSize": 12.7, "fontWeight": "bold", "align": "center", "baseline": "alphabetic"},
                 "encoding": {
                   "x": {"datum": 12.6, "type": "quantitative", "scale": {"domain": [0, 25], "nice": false, "zero": false}, "axis": null},
                   "y": {"datum": 126.25, "type": "quantitative", "scale": {"domain": [105, 125], "nice": false, "zero": false}, "axis": null}}},
                {"data": {"values": [{}]},
                 "mark": {"type": "text", "text": "C", "fontSize": 13.5, "fontWeight": "bold", "align": "center", "baseline": "middle"},
                 "encoding": {
                   "x": {"datum": -3.32, "type": "quantitative", "scale": {"domain": [0, 25], "nice": false, "zero": false}, "axis": {"orient": "bottom", "values": [0,1,2,3,4,5,6,7,8,9,10,11,12,13,14,15,16,17,18,19,20,21,22,23,24,25], "labels": false, "domain": false, "tickSize": 2, "tickWidth": 1, "title": null}},
                   "y": {"datum": 127.67, "type": "quantitative", "scale": {"domain": [105, 125], "nice": false, "zero": false}, "axis": {"orient": "left", "values": [105,105.5,106,106.5,107,107.5,108,108.5,109,109.5,110,110.5,111,111.5,112,112.5,113,113.5,114,114.5,115,115.5,116,116.5,117,117.5,118,118.5,119,119.5,120,120.5,121,121.5,122,122.5,123,123.5,124,124.5,125], "labels": false, "domain": false, "tickSize": 2, "tickWidth": 1, "title": null}}}}
              ],
              "resolve": {"axis": {"x": "independent", "y": "independent"}}
            }
          ]
        },
        {
          "spacing": 131,
          "bounds": "flush",
          "resolve": {"scale": {"color": "independent", "strokeDash": "independent", "shape": "independent"}},
          "hconcat": [
            {
              "width": 256, "height": 225,
              "data": {"name": "tmin"},
              "layer": [
                {"mark": {"type": "rule", "strokeWidth": 1.3},
                 "encoding": {
                   "x": {"field": "freq", "type": "quantitative", "scale": {"domain": [0, 25], "nice": false, "zero": false}, "axis": {"orient": "bottom", "values": [0, 5, 10, 15, 20, 25], "format": "d", "tickSize": 3.5, "labelFontSize": 9, "labelPadding": 2.5, "title": "Stimulation frequency", "titleFontSize": 12, "titleY": 23, "titleBaseline": "middle"}},
                   "y": {"field": "lo", "type": "quantitative", "scale": {"domain": [0, 8], "nice": false, "zero": false}, "axis": {"orient": "left", "values": [0, 2, 4, 6, 8], "format": "d", "tickSize": 3.5, "labelFontSize": 9, "labelPadding": 1, "title": "Delay from the stimulation onset (s)", "titleFontSize": 12, "titleX": -24, "titleBaseline": "middle"}},
                   "y2": {"field": "hi"},
                   "color": {"condition": {"test": "datum.group === 'SFN'", "value": "#555555"}, "value": "#5050e8"}}},
                {"transform": [{"fold": ["lo", "hi"], "as": ["k", "val"]}],
                 "mark": {"type": "tick", "orient": "horizontal", "size": 8, "thickness": 1.3},
                 "encoding": {
                   "x": {"field": "freq", "type": "quantitative", "scale": {"domain": [0, 25], "nice": false, "zero": false}, "axis": null},
                   "y": {"field": "val", "type": "quantitative", "scale": {"domain": [0, 8], "nice": false, "zero": false}, "axis": null},
                   "color": {"condition": {"test": "datum.group === 'SFN'", "value": "#555555"}, "value": "#5050e8"}}},
                {"transform": [{"filter": "datum.group === 'SFN'"}],
                 "mark": {"type": "line", "color": "#000000", "strokeWidth": 1.3},
                 "encoding": {
                   "x": {"field": "freq", "type": "quantitative", "scale": {"domain": [0, 25], "nice": false, "zero": false}, "axis": null},
                   "y": {"field": "mean", "type": "quantitative", "scale": {"domain": [0, 8], "nice": false, "zero": false}, "axis": null}}},
                {"transform": [{"filter": "datum.group === 'Control'"}],
                 "mark": {"type": "line", "color": "#0a0aff", "strokeWidth": 1.3, "strokeDash": [4, 3]},
                 "encoding": {
                   "x": {"field": "freq", "type": "quantitative", "scale": {"domain": [0, 25], "nice": false, "zero": false}, "axis": null},
                   "y": {"field": "mean", "type": "quantitative", "scale": {"domain": [0, 8], "nice": false, "zero": false}, "axis": null}}},
                {"mark": {"type": "point", "filled": true, "size": 60, "opacity": 1},
                 "encoding": {
                   "x": {"field": "freq", "type": "quantitative", "scale": {"domain": [0, 25], "nice": false, "zero": false}, "axis": null},
                   "y": {"field": "mean", "type": "quantitative", "scale": {"domain": [0, 8], "nice": false, "zero": false}, "axis": null},
                   "color": {"field": "group", "type": "nominal", "scale": {"domain": ["SFN", "Control"], "range": ["#000000", "#0a0aff"]}, "legend": {"title": null, "orient": "none", "legendX": 6, "legendY": 192, "labelFontSize": 9.5, "symbolSize": 60, "rowPadding": 8.5, "labelOffset": 6, "padding": 0}},
                   "shape": {"field": "group", "type": "nominal", "scale": {"domain": ["SFN", "Control"], "range": ["square", "circle"]}, "legend": {"title": null, "orient": "none", "legendX": 6, "legendY": 192, "labelFontSize": 9.5, "symbolSize": 60, "rowPadding": 8.5, "labelOffset": 6, "padding": 0}}}},
                {"transform": [{"filter": "datum.star === 1"}],
                 "mark": {"type": "text", "text": "*", "fontSize": 10.5, "color": "#000000", "baseline": "middle", "dy": -9},
                 "encoding": {
                   "x": {"field": "freq", "type": "quantitative", "scale": {"domain": [0, 25], "nice": false, "zero": false}, "axis": null},
                   "y": {"field": "hi", "type": "quantitative", "scale": {"domain": [0, 8], "nice": false, "zero": false}, "axis": null}}},
                {"data": {"values": [{}]},
                 "mark": {"type": "text", "text": "Time to reach Local minimum", "fontSize": 12.7, "fontWeight": "bold", "align": "center", "baseline": "alphabetic"},
                 "encoding": {
                   "x": {"datum": 12.6, "type": "quantitative", "scale": {"domain": [0, 25], "nice": false, "zero": false}, "axis": null},
                   "y": {"datum": 8.53, "type": "quantitative", "scale": {"domain": [0, 8], "nice": false, "zero": false}, "axis": null}}},
                {"data": {"values": [{}]},
                 "mark": {"type": "text", "text": "D", "fontSize": 13.5, "fontWeight": "bold", "align": "center", "baseline": "middle"},
                 "encoding": {
                   "x": {"datum": -3.79, "type": "quantitative", "scale": {"domain": [0, 25], "nice": false, "zero": false}, "axis": {"orient": "bottom", "values": [0,1,2,3,4,5,6,7,8,9,10,11,12,13,14,15,16,17,18,19,20,21,22,23,24,25], "labels": false, "domain": false, "tickSize": 2, "tickWidth": 1, "title": null}},
                   "y": {"datum": 8.84, "type": "quantitative", "scale": {"domain": [0, 8], "nice": false, "zero": false}, "axis": {"orient": "left", "values": [0,0.2,0.4,0.6,0.8,1,1.2,1.4,1.6,1.8,2,2.2,2.4,2.6,2.8,3,3.2,3.4,3.6,3.8,4,4.2,4.4,4.6,4.8,5,5.2,5.4,5.6,5.8,6,6.2,6.4,6.6,6.8,7,7.2,7.4,7.6,7.8,8], "labels": false, "domain": false, "tickSize": 2, "tickWidth": 1, "title": null}}}}
              ],
              "resolve": {"axis": {"x": "independent", "y": "independent"}}
            },
            {
              "width": 256, "height": 223,
              "data": {"name": "tmax"},
              "layer": [
                {"mark": {"type": "rule", "strokeWidth": 1.3},
                 "encoding": {
                   "x": {"field": "freq", "type": "quantitative", "scale": {"domain": [0, 25], "nice": false, "zero": false}, "axis": {"orient": "bottom", "values": [0, 5, 10, 15, 20, 25], "format": "d", "tickSize": 3.5, "labelFontSize": 9, "labelPadding": 2.5, "title": "Stimulation frequency", "titleFontSize": 12, "titleY": 24, "titleBaseline": "middle"}},
                   "y": {"field": "lo", "type": "quantitative", "scale": {"domain": [10, 22], "nice": false, "zero": false}, "axis": {"orient": "left", "values": [10, 12, 14, 16, 18, 20, 22], "format": "d", "tickSize": 3.5, "labelFontSize": 9, "labelPadding": 1, "title": "Delay from the stimulation onset (s)", "titleFontSize": 12, "titleX": -29.5, "titleBaseline": "middle"}},
                   "y2": {"field": "hi"},
                   "color": {"condition": {"test": "datum.group === 'SFN'", "value": "#555555"}, "value": "#5050e8"}}},
                {"transform": [{"fold": ["lo", "hi"], "as": ["k", "val"]}],
                 "mark": {"type": "tick", "orient": "horizontal", "size": 8, "thickness": 1.3},
                 "encoding": {
                   "x": {"field": "freq", "type": "quantitative", "scale": {"domain": [0, 25], "nice": false, "zero": false}, "axis": null},
                   "y": {"field": "val", "type": "quantitative", "scale": {"domain": [10, 22], "nice": false, "zero": false}, "axis": null},
                   "color": {"condition": {"test": "datum.group === 'SFN'", "value": "#555555"}, "value": "#5050e8"}}},
                {"transform": [{"filter": "datum.group === 'SFN'"}],
                 "mark": {"type": "line", "color": "#000000", "strokeWidth": 1.3},
                 "encoding": {
                   "x": {"field": "freq", "type": "quantitative", "scale": {"domain": [0, 25], "nice": false, "zero": false}, "axis": null},
                   "y": {"field": "mean", "type": "quantitative", "scale": {"domain": [10, 22], "nice": false, "zero": false}, "axis": null}}},
                {"transform": [{"filter": "datum.group === 'Control'"}],
                 "mark": {"type": "line", "color": "#0a0aff", "strokeWidth": 1.3, "strokeDash": [4, 3]},
                 "encoding": {
                   "x": {"field": "freq", "type": "quantitative", "scale": {"domain": [0, 25], "nice": false, "zero": false}, "axis": null},
                   "y": {"field": "mean", "type": "quantitative", "scale": {"domain": [10, 22], "nice": false, "zero": false}, "axis": null}}},
                {"mark": {"type": "point", "filled": true, "size": 60, "opacity": 1},
                 "encoding": {
                   "x": {"field": "freq", "type": "quantitative", "scale": {"domain": [0, 25], "nice": false, "zero": false}, "axis": null},
                   "y": {"field": "mean", "type": "quantitative", "scale": {"domain": [10, 22], "nice": false, "zero": false}, "axis": null},
                   "color": {"field": "group", "type": "nominal", "scale": {"domain": ["SFN", "Control"], "range": ["#000000", "#0a0aff"]}, "legend": {"title": null, "orient": "none", "legendX": 5.5, "legendY": 192, "labelFontSize": 9.5, "symbolSize": 60, "rowPadding": 8.5, "labelOffset": 6, "padding": 0}},
                   "shape": {"field": "group", "type": "nominal", "scale": {"domain": ["SFN", "Control"], "range": ["square", "circle"]}, "legend": {"title": null, "orient": "none", "legendX": 5.5, "legendY": 192, "labelFontSize": 9.5, "symbolSize": 60, "rowPadding": 8.5, "labelOffset": 6, "padding": 0}}}},
                {"transform": [{"filter": "datum.star === 1"}],
                 "mark": {"type": "text", "text": "*", "fontSize": 10.5, "color": "#000000", "baseline": "middle", "dy": -9},
                 "encoding": {
                   "x": {"field": "freq", "type": "quantitative", "scale": {"domain": [0, 25], "nice": false, "zero": false}, "axis": null},
                   "y": {"field": "hi", "type": "quantitative", "scale": {"domain": [10, 22], "nice": false, "zero": false}, "axis": null}}},
                {"data": {"values": [{}]},
                 "mark": {"type": "text", "text": "Time to reach Local maximum", "fontSize": 12.7, "fontWeight": "bold", "align": "center", "baseline": "alphabetic"},
                 "encoding": {
                   "x": {"datum": 12.55, "type": "quantitative", "scale": {"domain": [0, 25], "nice": false, "zero": false}, "axis": null},
                   "y": {"datum": 22.75, "type": "quantitative", "scale": {"domain": [10, 22], "nice": false, "zero": false}, "axis": null}}},
                {"data": {"values": [{}]},
                 "mark": {"type": "text", "text": "E", "fontSize": 13.5, "fontWeight": "bold", "align": "center", "baseline": "middle"},
                 "encoding": {
                   "x": {"datum": -3.44, "type": "quantitative", "scale": {"domain": [0, 25], "nice": false, "zero": false}, "axis": {"orient": "bottom", "values": [0,1,2,3,4,5,6,7,8,9,10,11,12,13,14,15,16,17,18,19,20,21,22,23,24,25], "labels": false, "domain": false, "tickSize": 2, "tickWidth": 1, "title": null}},
                   "y": {"datum": 23.44, "type": "quantitative", "scale": {"domain": [10, 22], "nice": false, "zero": false}, "axis": {"orient": "left", "values": [10,10.2,10.4,10.6,10.8,11,11.2,11.4,11.6,11.8,12,12.2,12.4,12.6,12.8,13,13.2,13.4,13.6,13.8,14,14.2,14.4,14.6,14.8,15,15.2,15.4,15.6,15.8,16,16.2,16.4,16.6,16.8,17,17.2,17.4,17.6,17.8,18,18.2,18.4,18.6,18.8,19,19.2,19.4,19.6,19.8,20,20.2,20.4,20.6,20.8,21,21.2,21.4,21.6,21.8,22], "labels": false, "domain": false, "tickSize": 2, "tickWidth": 1, "title": null}}}}
              ],
              "resolve": {"axis": {"x": "independent", "y": "independent"}}
            }
          ]
        }
      ]
    }
  ]
}
